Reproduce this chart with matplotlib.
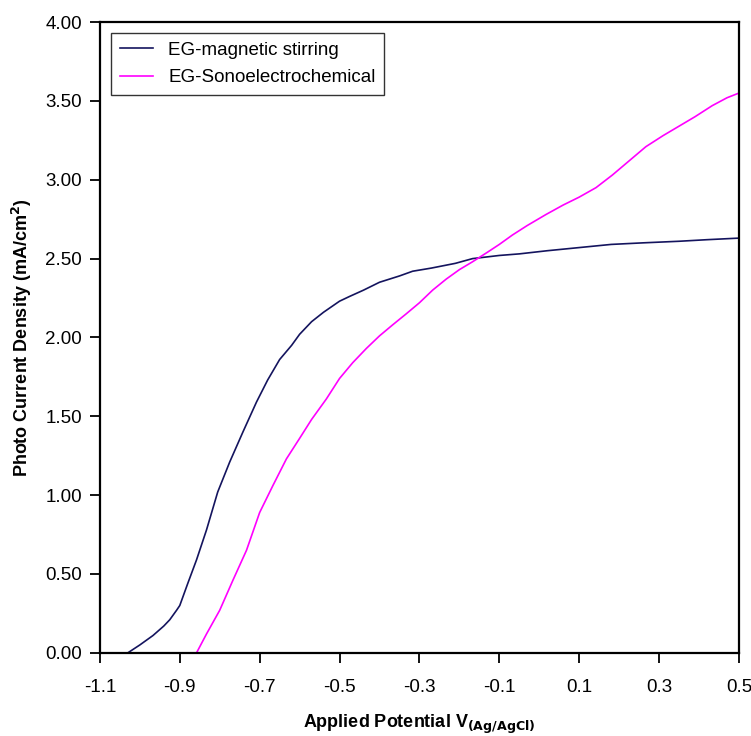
import matplotlib.pyplot as plt
import numpy as np

plt.rcParams['font.family'] = ['Liberation Sans', 'DejaVu Sans']

# EG-magnetic stirring
stir_v = [-1.03, -1.00, -0.967, -0.94, -0.925, -0.908, -0.90, -0.88, -0.858, -0.833,
          -0.805, -0.775, -0.742, -0.708, -0.68, -0.65, -0.62, -0.60, -0.57, -0.54,
          -0.50, -0.475, -0.44, -0.40, -0.35, -0.317, -0.27, -0.21, -0.167, -0.10,
          -0.05, 0.02, 0.10, 0.18, 0.26, 0.35, 0.42, 0.50]
stir_j = [0.00, 0.05, 0.11, 0.17, 0.21, 0.27, 0.30, 0.44, 0.59, 0.78,
          1.02, 1.21, 1.40, 1.59, 1.73, 1.86, 1.95, 2.02, 2.10, 2.16,
          2.23, 2.26, 2.30, 2.35, 2.39, 2.42, 2.44, 2.47, 2.50, 2.52,
          2.53, 2.55, 2.57, 2.59, 2.60, 2.61, 2.62, 2.63]

# EG-Sonoelectrochemical
sono_v = [-0.858, -0.833, -0.80, -0.767, -0.733, -0.70, -0.667, -0.633, -0.60, -0.57,
          -0.533, -0.50, -0.467, -0.433, -0.40, -0.367, -0.333, -0.30, -0.267, -0.233,
          -0.20, -0.167, -0.13, -0.10, -0.067, -0.03, 0.017, 0.06, 0.10, 0.142,
          0.183, 0.225, 0.267, 0.31, 0.35, 0.39, 0.433, 0.47, 0.50]
sono_j = [0.00, 0.12, 0.27, 0.46, 0.65, 0.89, 1.06, 1.23, 1.36, 1.48,
          1.61, 1.74, 1.84, 1.93, 2.01, 2.08, 2.15, 2.22, 2.30, 2.37,
          2.43, 2.48, 2.54, 2.59, 2.65, 2.71, 2.78, 2.84, 2.89, 2.95,
          3.03, 3.12, 3.21, 3.28, 3.34, 3.40, 3.47, 3.52, 3.55]

x_ticks = [-1.1, -0.9, -0.7, -0.5, -0.3, -0.1, 0.1, 0.3, 0.5]
y_ticks = np.arange(0, 4.01, 0.5)

fig = plt.figure(figsize=(7.51, 7.36), dpi=100)
ax = fig.add_axes([0.133, 0.113, 0.851, 0.857])

ax.plot(stir_v, stir_j, color='#14145e', lw=1.2, label='EG-magnetic stirring')
ax.plot(sono_v, sono_j, color='#ff00ff', lw=1.2, label='EG-Sonoelectrochemical')

ax.set_xlim(-1.1, 0.5)
ax.set_ylim(0, 4.0)
ax.set_xticks(x_ticks)
ax.set_xticklabels([f"{t:.1f}" for t in x_ticks])
ax.set_yticks(y_ticks)
ax.set_yticklabels([f"{t:.2f}" for t in y_ticks])
ax.tick_params(direction='out', length=7, width=1.3, labelsize=13.5)
ax.tick_params(axis='x', pad=12)
ax.tick_params(axis='y', pad=6)
for s in ax.spines.values():
    s.set_linewidth(1.6)

ax.set_xlabel(r'Applied Potential V$_{\mathbf{(Ag/AgCl)}}$', fontsize=13, fontweight='bold', labelpad=12)
ax.set_ylabel(r'Photo Current Density (mA/cm$^\mathbf{2}$)', fontsize=13, fontweight='bold', labelpad=8)

leg = ax.legend(loc='upper left', fontsize=13.5, frameon=True, fancybox=False,
                borderaxespad=0.6, handlelength=1.8, borderpad=0.45, labelspacing=0.55)
leg.get_frame().set_edgecolor('black')
leg.get_frame().set_linewidth(1.0)

fig.savefig('out.png', dpi=100)
